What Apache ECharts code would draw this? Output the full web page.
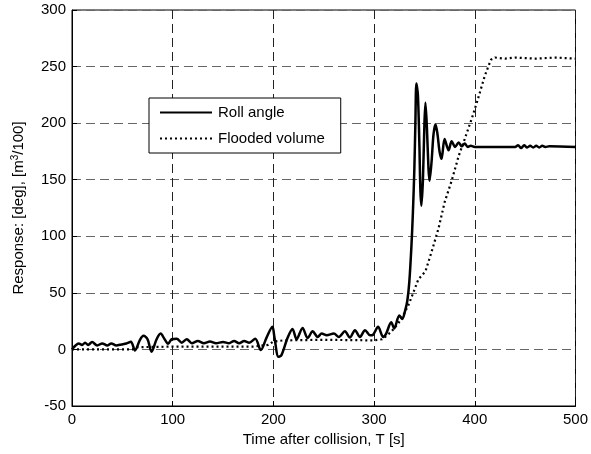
<!DOCTYPE html>
<html>
<head>
<meta charset="utf-8">
<script src="https://cdn.jsdelivr.net/npm/echarts@6/dist/echarts.min.js"></script>
<style>
html,body{margin:0;padding:0;background:#fff;}
#chart{width:591px;height:454px;}
</style>
</head>
<body>
<div id="chart"></div>
<script>
// ---- data ----
const xTicks = [0, 100, 200, 300, 400, 500];
const yTicks = [-50, 0, 50, 100, 150, 200, 250, 300];

const rollT = [0,3,6.6,10,13,16,20,25,30,35,39,44,49,54,58.5,62.5,67.5,71,75,79,84,88,92,95.5,99,104,109,114,119,125,131,137,143,150,156,161,166,171,176,182,187.5,193,199,201,205,208,214,219,223,229,234,239,244,248,253,260,265,271,276,281,286,291,296,299,304,309,312,317,320,325,328,331,333,335,337,338.5,340,341,342,343.5,345,346,347,348.5,350,351,352.5,354,355,357,359,361,363,365,367,370,374,377,380.5,384,387,390,393,396,400,440,443,446,449,452,455,458,461,464,467,470,474,500];
const rollV = [0,3,5.3,4,6,4,6.5,3.5,5.3,3.5,5.3,3.5,4.4,5.3,6.8,-1,8.5,12,9,-2,9,14,9,5,9,9.5,6,9,5.5,7.5,5.5,7,5.5,6.5,5.5,7.5,5.5,7.5,6,9.5,-0.6,10,20,11,-6.5,-5,10,18,9,19,10,16,11,14,12.5,14,11,16,10.5,17,11,17,12.5,13,20,11,14,24,18.6,30,27,35,43,60,90,120,160,200,235,225,180,140,127,150,200,218,195,160,149,165,190,199,190,175,168.5,186,176,184,179,183,179.5,182,179,180,179,179,180.5,178,180.5,178.5,180,178.5,180,178.5,180,179,179.5,179,179];

const floodT = [0,60,65,100,150,180,195,200,210,250,300,308,311,317,324,330,334,338,344,351,357,364,370,377,384,390,397,403,410,416,420,430,440,460,480,500];
const floodV = [0,0,2,2.5,2.5,2.5,4,7,8,8.5,8,9,11,15.6,23,32,39,48,62,69,86,107,130,149,171,186,204,221,242,256,258,257,258,257,258,257];

const seriesNames = ['Roll angle', 'Flooded volume'];

const rollData = rollT.map((t, i) => [t, rollV[i]]);
const floodData = floodT.map((t, i) => [t, floodV[i]]);

const FONT = '"Liberation Sans", Arial, Helvetica, sans-serif';
const chart = echarts.init(document.getElementById('chart'), null, {renderer: 'canvas'});
chart.setOption({
  animation: false,
  backgroundColor: '#fff',
  grid: {left: 72, right: 12, top: 10, bottom: 48, show: true, borderColor: '#000', borderWidth: 1},
  xAxis: {
    type: 'value', min: xTicks[0], max: xTicks[xTicks.length - 1], interval: 100,
    name: 'Time after collision, T [s]', nameLocation: 'middle', nameGap: 26,
    nameTextStyle: {color: '#000', fontSize: 15, fontFamily: FONT},
    axisLine: {show: true, onZero: false, lineStyle: {color: '#000', width: 1}},
    axisTick: {show: true, inside: true, length: 5, lineStyle: {color: '#000'}},
    axisLabel: {color: '#000', fontSize: 15, fontFamily: FONT, margin: 6},
    splitLine: {show: true, lineStyle: {color: '#222', type: [9, 5], width: 1}}
  },
  yAxis: {
    type: 'value', min: yTicks[0], max: yTicks[yTicks.length - 1], interval: 50,
    name: 'Response: [deg], [m{sup|3}/100]', nameLocation: 'middle', nameGap: 44,
    nameTextStyle: {color: '#000', fontSize: 15, fontFamily: FONT,
      rich: {sup: {fontSize: 10, fontFamily: FONT, color: '#000', verticalAlign: 'top', padding: [0, 0, 8, 0]}}},
    axisLine: {show: true, onZero: false, lineStyle: {color: '#000', width: 1}},
    axisTick: {show: true, inside: true, length: 5, lineStyle: {color: '#000'}},
    axisLabel: {color: '#000', fontSize: 15, fontFamily: FONT, margin: 6},
    splitLine: {show: true, lineStyle: {color: '#666', type: [9, 5], width: 1}}
  },
  legend: {
    orient: 'vertical', left: 149, top: 98,
    data: seriesNames,
    backgroundColor: '#fff', borderColor: '#000', borderWidth: 1,
    padding: [7, 16, 7, 10], itemWidth: 52, itemHeight: 14, itemGap: 11,
    itemStyle: {opacity: 0},
    textStyle: {color: '#000', fontSize: 15, fontFamily: FONT, padding: [0, 0, 0, 1]}
  },
  series: [
    {name: seriesNames[0], type: 'line', data: rollData, symbol: 'none', smooth: 0.3,
     lineStyle: {color: '#000', width: 2.5}, itemStyle: {color: '#000'}, z: 3},
    {name: seriesNames[1], type: 'line', data: floodData, symbol: 'none',
     lineStyle: {color: '#000', width: 2.2, type: [2, 3]}, itemStyle: {color: '#000'}, z: 2}
  ]
});
</script>
</body>
</html>
